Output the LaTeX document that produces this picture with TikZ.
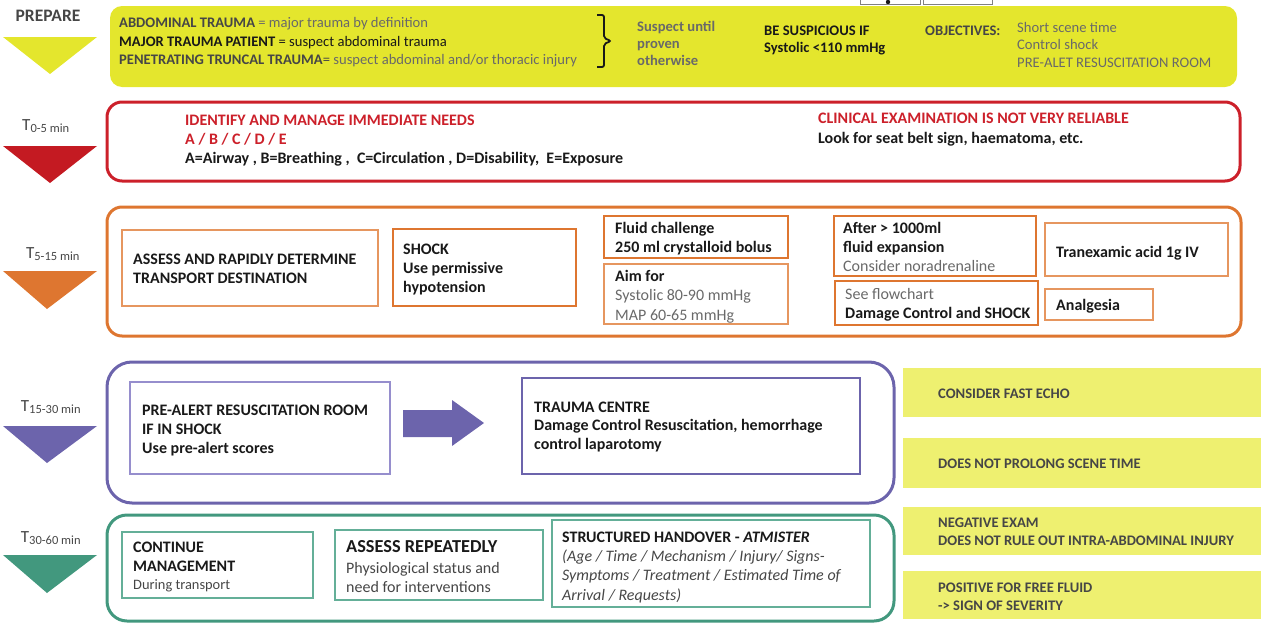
\documentclass[tikz,border=0pt]{standalone}
\usepackage{fontspec}
\setmainfont{Carlito}
\definecolor{prepyellow}{RGB}{228,230,45}
\definecolor{sideyellow}{RGB}{238,240,112}
\definecolor{redline}{RGB}{204,32,42}
\definecolor{redtri}{RGB}{196,26,34}
\definecolor{orangeline}{RGB}{222,118,48}
\definecolor{orangethin}{RGB}{230,150,95}
\definecolor{purpleline}{RGB}{108,100,172}
\definecolor{purplethin}{RGB}{150,142,205}
\definecolor{tealline}{RGB}{66,152,126}
\definecolor{tealthin}{RGB}{100,175,152}
\definecolor{ink}{RGB}{25,25,25}
\definecolor{darkgrey}{RGB}{70,70,70}
\definecolor{midgrey}{RGB}{105,105,105}
\newcommand\bodyfont{\fontsize{16}{19}\selectfont}
\newcommand\topfont{\fontsize{14.6}{18.5}\selectfont}
\newcommand\sidefont{\fontsize{14.6}{18}\selectfont}
\newcommand\timesub{\fontsize{12.5}{12.5}\selectfont}
\begin{document}
\begin{tikzpicture}[x=1pt,y=-1pt,
  txt/.style={inner sep=0pt, anchor=north west, align=left, font=\bodyfont, text=ink},
  toptxt/.style={txt, font=\topfont},
  side/.style={inner sep=0pt, anchor=north west, align=left, font=\sidefont\bfseries, text=darkgrey},
  timelbl/.style={inner sep=0pt, font=\fontsize{17}{17}\selectfont, text=darkgrey},
  stage/.style={rounded corners=#1, line width=3pt},
  inbox/.style={draw=#1, line width=1.4pt},
  sidebox/.style={fill=sideyellow, draw=none}]
\useasboundingbox (0,0) rectangle (1261,624);

% fragments of controls at the top edge
\draw[gray, line width=0.8pt] (860,-2) rectangle (920,4);
\draw[gray, line width=0.8pt] (923,-2) rectangle (992,4);
\fill[ink] (888,2) circle (2.2);

% ---------- PREPARE ----------
\node[inner sep=0pt, font=\fontsize{17.5}{17.5}\selectfont\bfseries, text=darkgrey] (prep) at (48,16) {PREPARE};
\fill[prepyellow] (3,37) -- (97,37) -- (50,74) -- cycle;
\fill[prepyellow, rounded corners=12] (110,6) rectangle (1237,87);
\node[toptxt] (defs) at (119,17.5) {%
  {\color{darkgrey}\textbf{ABDOMINAL TRAUMA} {\color{midgrey}= major trauma by definition}}\\
  \textbf{MAJOR TRAUMA PATIENT} = suspect abdominal trauma\\
  {\color{darkgrey}\textbf{PENETRATING TRUNCAL TRAUMA}= {\color{midgrey}suspect abdominal and/or thoracic injury}}};
\draw[ink, line width=1.8pt, rounded corners=2]
  (597,15) -- (604,15) -- (604,38) -- (611,41) -- (604,44) -- (604,67) -- (597,67);
\node[toptxt, text=midgrey, font=\fontsize{14.6}{17}\selectfont\bfseries] (suspect) at (637,21.5) {Suspect until\\ proven\\ otherwise};
\node[toptxt, font=\fontsize{14.6}{17}\selectfont\bfseries] (susp) at (764,26) {BE SUSPICIOUS IF\\ Systolic <110 mmHg};
\node[toptxt, font=\topfont\bfseries, text=darkgrey] (obj) at (925,26) {OBJECTIVES:};
\node[toptxt, text=midgrey, font=\fontsize{14.6}{17.5}\selectfont] (objlist) at (1017,22) {Short scene time\\ Control shock\\ PRE-ALET RESUSCITATION ROOM};

% ---------- T 0-5 min ----------
\node[timelbl] (t1) at (46,126) {T\textsubscript{\timesub 0-5 min}};
\fill[redtri] (3,146) -- (97,146) -- (50,183) -- cycle;
\draw[redline, stage=15] (107,102) rectangle (1240,181);
\node[txt, font=\bodyfont\bfseries, text=redline] (needs) at (185,114.5) {IDENTIFY AND MANAGE IMMEDIATE NEEDS\\A / B / C / D / E\\
  {\color{ink}A=Airway , B=Breathing ,~~C=Circulation , D=Disability,~~E=Exposure}};
\node[txt, font=\fontsize{16}{20}\selectfont\bfseries, text=redline] (clin) at (818,112.5) {CLINICAL EXAMINATION IS NOT VERY RELIABLE\\
  {\color{ink}Look for seat belt sign, haematoma, etc.}};

% ---------- T 5-15 min ----------
\node[timelbl] (t2) at (53,254) {T\textsubscript{\timesub 5-15 min}};
\fill[orangeline] (3,271) -- (97,271) -- (47,309) -- cycle;
\draw[orangeline, stage=15] (107,207) rectangle (1241,336);
\draw[inbox=orangethin] (122,230) rectangle (378,306);
\node[txt, font=\bodyfont\bfseries] (assess) at (133,253.5) {ASSESS AND RAPIDLY DETERMINE\\TRANSPORT DESTINATION};
\draw[inbox=orangeline] (393,229) rectangle (576,306);
\node[txt, font=\bodyfont\bfseries] (shock) at (403,243.5) {SHOCK\\Use permissive\\hypotension};
\draw[inbox=orangeline] (604,216) rectangle (788,258);
\node[txt, font=\bodyfont\bfseries] (fluid) at (615,222) {Fluid challenge\\250 ml crystalloid bolus};
\draw[inbox=orangethin] (604,264) rectangle (788,324);
\node[txt, font=\fontsize{16}{19.5}\selectfont] (aim) at (615,270) {\textbf{Aim for}\\{\color{midgrey}Systolic 80-90 mmHg}\\{\color{midgrey}MAP 60-65 mmHg}};
\draw[inbox=orangeline] (834,216) rectangle (1036,276);
\node[txt] (after) at (843,222) {\textbf{After > 1000ml}\\\textbf{fluid expansion}\\{\color{midgrey}Consider noradrenaline}};
\draw[inbox=orangeline] (835,281) rectangle (1038,325);
\node[txt] (flow) at (845,288) {{\color{midgrey}See flowchart}\\\textbf{Damage Control and SHOCK}};
\draw[inbox=orangethin] (1045,223) rectangle (1228,276);
\node[txt, font=\bodyfont\bfseries] (txa) at (1056,246) {Tranexamic acid 1g IV};
\draw[inbox=orangethin] (1045,289) rectangle (1153,320);
\node[txt, font=\bodyfont\bfseries] (analg) at (1056,299) {Analgesia};

% ---------- T 15-30 min ----------
\node[timelbl] (t3) at (51,407) {T\textsubscript{\timesub 15-30 min}};
\fill[purpleline] (3,426) -- (97,426) -- (47,463) -- cycle;
\draw[purpleline, stage=25] (107,362) rectangle (894,503);
\draw[inbox=purplethin] (130,382) rectangle (390,474);
\node[txt, font=\bodyfont\bfseries] (prealert) at (142,404.5) {PRE-ALERT RESUSCITATION ROOM\\IF IN SHOCK\\Use pre-alert scores};
\fill[purpleline] (403,410) -- (452,410) -- (452,400) -- (484,423) -- (452,446) -- (452,437) -- (403,437) -- cycle;
\draw[inbox=purpleline] (522,378) rectangle (860,474);
\node[txt, font=\fontsize{16}{18.5}\selectfont\bfseries] (centre) at (534,401.5) {TRAUMA CENTRE\\Damage Control Resuscitation, hemorrhage\\control laparotomy};

% ---------- T 30-60 min ----------
\node[timelbl] (t4) at (51,538) {T\textsubscript{\timesub 30-60 min}};
\fill[tealline] (3,555) -- (97,555) -- (47,593) -- cycle;
\draw[tealline, stage=20] (107,515) rectangle (894,621);
\draw[inbox=tealthin] (122,532) rectangle (313,598);
\node[txt] (cont) at (133,541.5) {\textbf{CONTINUE}\\\textbf{MANAGEMENT}\\[-1pt]{\fontsize{14.4}{16}\selectfont\color{darkgrey}During transport}};
\draw[inbox=tealthin] (335,530) rectangle (543,600);
\node[txt] (rep) at (346,540.5) {{\fontsize{18.3}{19}\selectfont\bfseries ASSESS REPEATEDLY}\\[2pt]{\color{darkgrey}Physiological status and}\\{\color{darkgrey}need for interventions}};
\draw[inbox=tealthin] (552,520) rectangle (870,607);
\node[txt, font=\fontsize{16}{19.3}\selectfont] (handover) at (562,531.5) {\textbf{STRUCTURED HANDOVER - \textit{ATMISTER}}\\{\itshape\color{darkgrey}(Age / Time / Mechanism / Injury/ Signs-}\\{\itshape\color{darkgrey}Symptoms / Treatment / Estimated Time of}\\{\itshape\color{darkgrey}Arrival / Requests)}};

% ---------- FAST echo notes ----------
\fill[sidebox] (903,368) rectangle (1261,417);
\node[side] (fast) at (938,388.3) {CONSIDER FAST ECHO};
\fill[sidebox] (903,438) rectangle (1261,488);
\node[side] (prolong) at (938,458.3) {DOES NOT PROLONG SCENE TIME};
\fill[sidebox] (903,507) rectangle (1261,555);
\node[side] (neg) at (938,517.3) {NEGATIVE EXAM\\DOES NOT RULE OUT INTRA-ABDOMINAL INJURY};
\fill[sidebox] (903,571) rectangle (1261,619);
\node[side] (pos) at (938,582.3) {POSITIVE FOR FREE FLUID\\-> SIGN OF SEVERITY};
\end{tikzpicture}
\end{document}
